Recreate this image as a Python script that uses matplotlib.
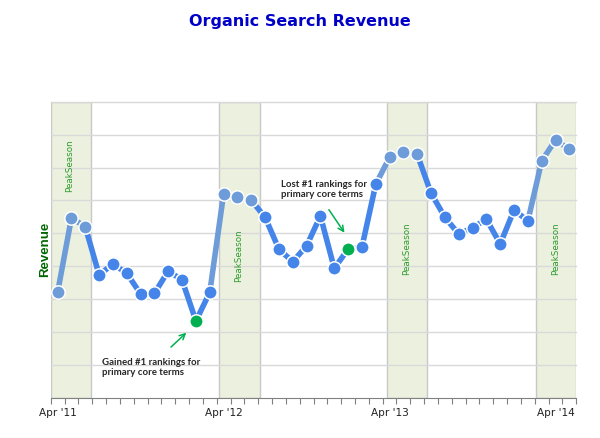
import matplotlib
matplotlib.use("Agg")
from matplotlib import pyplot as plt

# monthly revenue, Apr '11 .. May '14 (no units shown on the chart)
revenue = [3.21, 5.47, 5.20, 3.74, 4.07, 3.79, 3.16, 3.18, 3.86, 3.58,
           2.34, 3.21, 6.20, 6.10, 6.01, 5.49, 4.52, 4.14, 4.62, 5.53,
           3.94, 4.52, 4.58, 6.49, 7.31, 7.47, 7.40, 6.22, 5.49, 4.98,
           5.17, 5.43, 4.68, 5.71, 5.38, 7.20, 7.84, 7.55]
peak_months = [0, 1, 2, 12, 13, 14, 24, 25, 26, 35, 36, 37]
event_months = [10, 21]
peak_bands = [(0, 2.9), (12.2, 15.1), (24.35, 27.2), (35.1, 38)]
tick_months = [0, 12, 24, 36]
tick_labels = ["Apr '11", "Apr '12", "Apr '13", "Apr '14"]

DARK = "#4585ea"
LIGHT = "#6d9cd8"
GREEN = "#00b050"


def pointColor(i):
    if i in event_months:
        return GREEN
    if i in peak_months:
        return LIGHT
    return DARK


fig = plt.figure(figsize=(6, 4.38), dpi=100)
ax = fig.add_axes([0.0845, 0.0913, 0.876, 0.6765])

x = [m + 0.5 for m in range(len(revenue))]

# peak season bands
for start, end in peak_bands:
    ax.axvspan(start, end, facecolor="#ebf1de", edgecolor="#c8c8c8",
               linewidth=1, zorder=0)

# horizontal gridlines
for gy in range(1, 10):
    ax.axhline(gy, color="#d9d9d9", linewidth=1, zorder=1, clip_on=False)

# line segments, each coloured like the point it leads to
for i in range(1, len(revenue)):
    c = LIGHT if i in peak_months else DARK
    ax.plot([x[i - 1], x[i]], [revenue[i - 1], revenue[i]], color=c,
            linewidth=4, solid_capstyle="butt", zorder=2)

for i in range(len(revenue)):
    ax.plot(x[i], revenue[i], "o", color=pointColor(i), markersize=9.6,
            markeredgecolor="white", markeredgewidth=1.1, zorder=3)

# season labels
season_text = [(1.4, 7.05), (13.56, 4.31), (25.76, 4.54), (36.47, 4.54)]
for tx, ty in season_text:
    ax.text(tx, ty, "PeakSeason", rotation=90, color="#2e9a2e", fontsize=6.3,
            ha="center", va="center", zorder=4)

# annotations
ax.annotate("", xy=(9.95, 2.04), xytext=(8.55, 1.49),
            arrowprops=dict(arrowstyle="->", color=GREEN, lw=1.1))
ax.text(3.71, 1.22, "Gained #1 rankings for\nprimary core terms",
        fontsize=6.9, fontweight="bold", family="Lato", color="#262626",
        ha="left", va="top", linespacing=1.2)
ax.annotate("", xy=(21.35, 4.95), xytext=(20.0, 5.79),
            arrowprops=dict(arrowstyle="->", color=GREEN, lw=1.1))
ax.text(16.65, 6.62, "Lost #1 rankings for\nprimary core terms",
        fontsize=6.9, fontweight="bold", family="Lato", color="#262626",
        ha="left", va="top", linespacing=1.2)

ax.set_xlim(0, 38)
ax.set_ylim(0, 9)
ax.set_yticks([])
ax.set_xticks(range(0, 39), minor=True)
ax.set_xticks([m + 0.5 for m in tick_months])
ax.set_xticklabels(tick_labels, fontsize=7.6, color="#222222")
ax.tick_params(axis="x", which="major", length=0, pad=7)
ax.tick_params(axis="x", which="minor", length=4, width=0.8, color="#808080")
for side in ["top", "right", "left"]:
    ax.spines[side].set_visible(False)
ax.spines["bottom"].set_color("#808080")
ax.spines["bottom"].set_zorder(5)

ax.set_ylabel("Revenue", fontsize=9.5, fontweight="bold", color="#006600",
              family="Liberation Sans", labelpad=0)

fig.text(0.5, 0.95, "Organic Search Revenue", ha="center", va="center",
         fontsize=11.5, fontweight="bold", color="#0000c8")

fig.savefig("out.png", dpi=100)
